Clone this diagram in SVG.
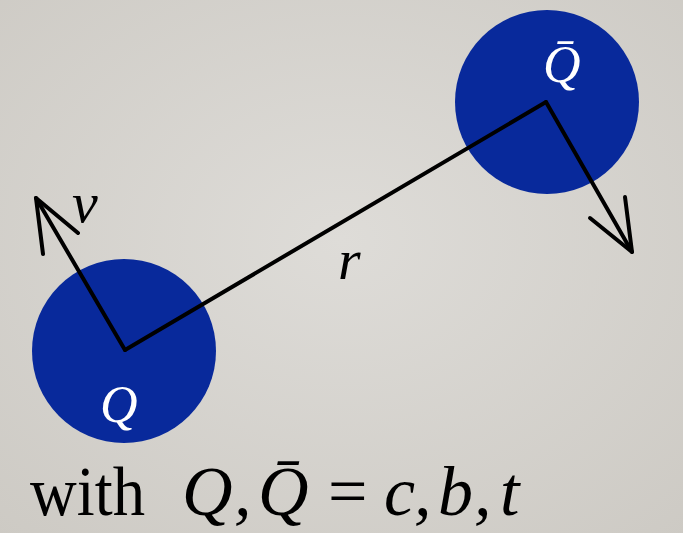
<svg xmlns="http://www.w3.org/2000/svg" width="683" height="533" viewBox="0 0 683 533">
  <defs>
    <radialGradient id="bg" cx="50%" cy="45%" r="75%">
      <stop offset="0" stop-color="#dedcd8"/>
      <stop offset="1" stop-color="#cdcac4"/>
    </radialGradient>
    <style>
      .ball { fill: #08299b; }
      .line { stroke: #000; stroke-width: 4; fill: none; stroke-linecap: round; stroke-linejoin: round; }
      .math { font-family: "Liberation Serif", "DejaVu Serif", serif; font-style: italic; }
      .rm { font-family: "Liberation Serif", "DejaVu Serif", serif; }
      .lbl { fill: #fff; }
    </style>
  </defs>
  <rect width="683" height="533" fill="url(#bg)"/>

  <g id="node-Q">
    <circle class="ball" cx="124" cy="351" r="92"/>
    <text class="math lbl" x="100" y="422" font-size="52">Q</text>
  </g>
  <g id="node-Qbar">
    <circle class="ball" cx="547" cy="102" r="92"/>
    <text class="math lbl" x="543" y="82" font-size="52">Q̄</text>
  </g>

  <g id="connectors">
    <path class="line" d="M125 350 L546 102"/>
    <path class="line" d="M125 350 L36 198"/>
    <path class="line" d="M43 254 L36 198 L78 233"/>
    <path class="line" d="M546 102 L632 252"/>
    <path class="line" d="M590 218 L632 252 L625 197"/>
  </g>

  <g id="labels">
    <text class="math" x="72" y="222" font-size="58">v</text>
    <text class="math" x="338" y="279" font-size="58">r</text>
  </g>

  <g id="caption" font-size="70">
    <text class="rm" x="30" y="515" textLength="115" lengthAdjust="spacingAndGlyphs">with</text>
    <text class="math" x="182" y="515">Q</text>
    <text class="math" x="234" y="515">,</text>
    <text class="math" x="258" y="515">Q̄</text>
    <text class="rm" x="328" y="515">=</text>
    <text class="math" x="384" y="515">c</text>
    <text class="math" x="414" y="515">,</text>
    <text class="math" x="438" y="515">b</text>
    <text class="math" x="474" y="515">,</text>
    <text class="math" x="500" y="515">t</text>
  </g>
</svg>
